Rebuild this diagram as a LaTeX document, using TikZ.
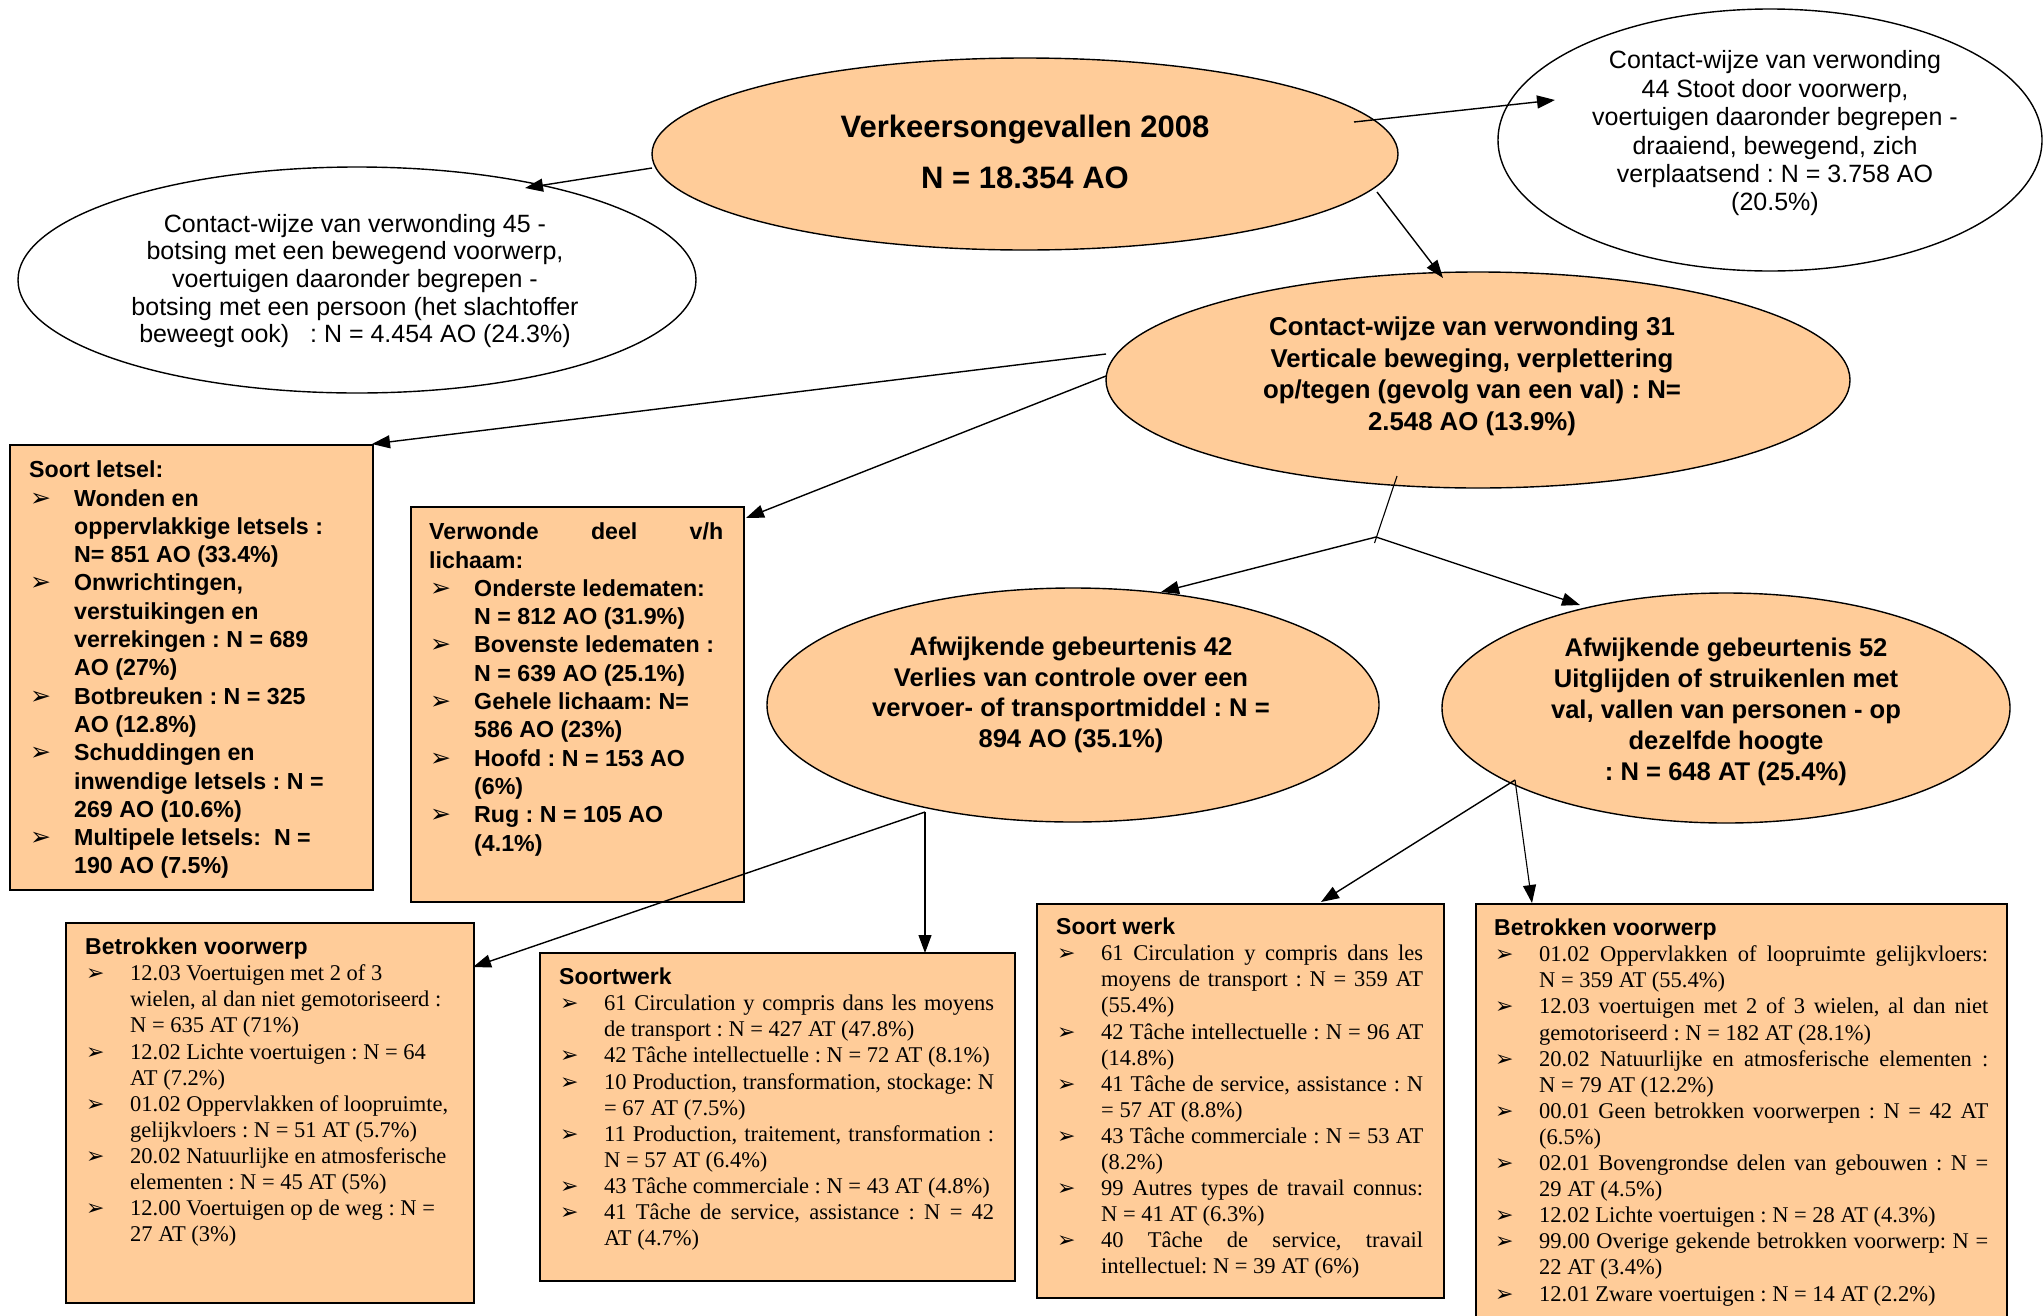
\documentclass[tikz,border=0pt]{standalone}
\usepackage{fontspec}
\setmainfont{Liberation Serif}
\setsansfont{Liberation Sans}
\newfontfamily\dejavu{DejaVu Sans}
\usetikzlibrary{shapes.geometric,arrows.meta}
\definecolor{peach}{HTML}{FFCC99}
\newcommand\fixsp{\spaceskip=0pt\xspaceskip=0pt\frenchspacing}
\newcommand\rigidsp{\frenchspacing\spaceskip=\fontdimen2\font\relax\xspaceskip=\spaceskip}
\newcommand\bul{\makebox[45pt][l]{\hspace*{1pt}{\dejavu\mdseries\fontsize{25}{25}\selectfont ➢}}}
\newcommand\sbul{\makebox[45pt][l]{\hspace*{1pt}{\dejavu\mdseries\fontsize{22}{22}\selectfont ➢}}}
\newcommand\cnt{\hspace*{45pt}}
\newcommand\jl[2]{{\fixsp\makebox[#1][s]{#2}}}
\newcommand\hd{\sffamily\bfseries\fontsize{23}{26.1}\selectfont}
\tikzset{
  ell/.style={ellipse, draw=black, line width=1.4pt, inner sep=0pt},
  ellO/.style={ell, fill=peach},
  ellW/.style={ell, fill=white},
  boxr/.style={rectangle, draw=black, line width=2pt, fill=peach, anchor=north west, inner sep=0pt},
  sanslist/.style={anchor=north west, inner sep=0pt, align=left, font=\sffamily\bfseries\fontsize{23.2}{28.3}\selectfont},
  serlist/.style={anchor=north west, inner sep=0pt, align=left, font=\rmfamily\fontsize{22.5}{26.1}\selectfont},
  etxt/.style={inner sep=0pt, align=center},
  conn/.style={line width=1.4pt, -{Triangle[length=18pt,width=13pt]}},
  thinconn/.style={line width=1.1pt, -{Triangle[length=18pt,width=13pt]}},
}
\begin{document}
\begin{tikzpicture}[x=1pt, y=-1pt]
\path[use as bounding box, clip] (0,0) rectangle (2043,1315);
\fill[white] (0,0) rectangle (2043,1315);

% ellipses
\node[ellO, minimum width=746pt, minimum height=192pt] (main) at (1025,154) {};
\node[ellW, minimum width=544pt, minimum height=262pt] (tr) at (1770,140) {};
\node[ellW, minimum width=678pt, minimum height=226pt] (lw) at (357,280) {};
\node[ellO, minimum width=744pt, minimum height=216pt] (c31) at (1478,380) {};
\node[ellO, minimum width=612pt, minimum height=234pt] (e42) at (1073,705) {};
\node[ellO, minimum width=568pt, minimum height=230pt] (e52) at (1726,708) {};

\node[etxt, text width=480pt, font=\sffamily\bfseries\fontsize{31}{51}\selectfont] (main-t) at (1025,152.3)
  {\rigidsp\strut Verkeersongevallen 2008\\ N = 18.354 AO\strut};
\node[etxt, text width=420pt, font=\sffamily\fontsize{25}{28.4}\selectfont] (tr-t) at (1775,134.3)
  {\rigidsp\strut Contact-wijze van verwonding\\ 44 Stoot door voorwerp,\\ voertuigen daaronder begrepen -\\ draaiend, bewegend, zich\\ verplaatsend : N = 3.758 AO\\ (20.5\%)\strut};
\node[etxt, text width=540pt, font=\sffamily\fontsize{25}{27.7}\selectfont] (lw-t) at (355,282)
  {\rigidsp\strut Contact-wijze van verwonding 45 -\\ botsing met een bewegend voorwerp,\\ voertuigen daaronder begrepen -\\ botsing met een persoon (het slachtoffer\\ beweegt ook)\ \ \ : N = 4.454 AO (24.3\%)\strut};
\node[etxt, text width=480pt, font=\sffamily\bfseries\fontsize{25.8}{31.5}\selectfont] (c31-t) at (1472,376.7)
  {\rigidsp\strut Contact-wijze van verwonding 31\\ Verticale beweging, verplettering\\ op/tegen (gevolg van een val) : N=\\ 2.548 AO (13.9\%)\strut};
\node[etxt, text width=480pt, font=\sffamily\bfseries\fontsize{25.6}{30.7}\selectfont] (e42-t) at (1071,695.4)
  {\rigidsp\strut Afwijkende gebeurtenis 42\\ Verlies van controle over een\\ vervoer- of transportmiddel : N =\\ 894 AO (35.1\%)\strut};
\node[etxt, text width=440pt, font=\sffamily\bfseries\fontsize{25.6}{31}\selectfont] (e52-t) at (1726,711.8)
  {\rigidsp\strut Afwijkende gebeurtenis 52\\ Uitglijden of struikenlen met\\ val, vallen van personen - op\\ dezelfde hoogte\\ : N = 648 AT (25.4\%)\strut};

% boxes
\node[boxr, minimum width=363pt, minimum height=445pt] (b1) at (9,444) {};
\node[boxr, minimum width=333pt, minimum height=395pt] (b2) at (410,506) {};
\node[boxr, minimum width=408pt, minimum height=380pt] (b3) at (65,922) {};
\node[boxr, minimum width=475pt, minimum height=328pt] (b4) at (539,952) {};
\node[boxr, minimum width=407pt, minimum height=394pt] (b5) at (1036,903) {};
\node[boxr, minimum width=531pt, minimum height=440pt] (b6) at (1475,903) {};

\node[sanslist, text width=340pt] (b1t) at (29,457.7) {\fixsp\strut Soort letsel:\\
\bul Wonden en\\
\cnt oppervlakkige letsels :\\
\cnt N= 851 AO (33.4\%)\\
\bul Onwrichtingen,\\
\cnt verstuikingen en\\
\cnt verrekingen : N = 689\\
\cnt AO (27\%)\\
\bul Botbreuken : N = 325\\
\cnt AO (12.8\%)\\
\bul Schuddingen en\\
\cnt inwendige letsels : N =\\
\cnt 269 AO (10.6\%)\\
\bul Multipele letsels:\ \ N =\\
\cnt 190 AO (7.5\%)};

\node[sanslist, text width=310pt] (b2t) at (429,519.7) {\fixsp\strut\jl{294pt}{Verwonde deel v/h}\\
lichaam:\\
\bul Onderste ledematen:\\
\cnt N = 812 AO (31.9\%)\\
\bul Bovenste ledematen :\\
\cnt N = 639 AO (25.1\%)\\
\bul Gehele lichaam: N=\\
\cnt 586 AO (23\%)\\
\bul Hoofd : N = 153 AO\\
\cnt (6\%)\\
\bul Rug : N = 105 AO\\
\cnt (4.1\%)};

\node[serlist, text width=395pt] (b3t) at (85,936.2) {\fixsp{\hd\strut Betrokken voorwerp}\\
\sbul 12.03 Voertuigen met 2 of 3\\
\cnt wielen, al dan niet gemotoriseerd :\\
\cnt N = 635 AT (71\%)\\
\sbul 12.02 Lichte voertuigen : N = 64\\
\cnt AT (7.2\%)\\
\sbul 01.02 Oppervlakken of loopruimte,\\
\cnt gelijkvloers : N = 51 AT (5.7\%)\\
\sbul 20.02 Natuurlijke en atmosferische\\
\cnt elementen : N = 45 AT (5\%)\\
\sbul 12.00 Voertuigen op de weg : N =\\
\cnt 27 AT (3\%)};

\node[serlist, text width=470pt] (b4t) at (559,966.2) {\fixsp{\hd\strut Soortwerk}\\
\sbul\jl{390pt}{61 Circulation y compris dans les moyens}\\
\cnt de transport : N = 427 AT (47.8\%)\\
\sbul 42 Tâche intellectuelle : N = 72 AT (8.1\%)\\
\sbul\jl{390pt}{10 Production, transformation, stockage: N}\\
\cnt = 67 AT (7.5\%)\\
\sbul\jl{390pt}{11 Production, traitement, transformation :}\\
\cnt N = 57 AT (6.4\%)\\
\sbul 43 Tâche commerciale : N = 43 AT (4.8\%)\\
\sbul\jl{390pt}{41 Tâche de service, assistance : N = 42}\\
\cnt AT (4.7\%)};

\node[serlist, text width=390pt] (b5t) at (1056,916.2) {\fixsp{\hd\strut Soort werk}\\
\sbul\jl{322pt}{61 Circulation y compris dans les}\\
\cnt\jl{322pt}{moyens de transport : N = 359 AT}\\
\cnt (55.4\%)\\
\sbul\jl{322pt}{42 Tâche intellectuelle : N = 96 AT}\\
\cnt (14.8\%)\\
\sbul\jl{322pt}{41 Tâche de service, assistance : N}\\
\cnt = 57 AT (8.8\%)\\
\sbul\jl{322pt}{43 Tâche commerciale : N = 53 AT}\\
\cnt (8.2\%)\\
\sbul\jl{322pt}{99 Autres types de travail connus:}\\
\cnt N = 41 AT (6.3\%)\\
\sbul\jl{322pt}{40 Tâche de service, travail}\\
\cnt intellectuel: N = 39 AT (6\%)};

\node[serlist, text width=520pt] (b6t) at (1494,917.2) {\fixsp{\hd\strut Betrokken voorwerp}\\
\sbul\jl{449pt}{01.02 Oppervlakken of loopruimte gelijkvloers:}\\
\cnt N = 359 AT (55.4\%)\\
\sbul\jl{449pt}{12.03 voertuigen met 2 of 3 wielen, al dan niet}\\
\cnt gemotoriseerd : N = 182 AT (28.1\%)\\
\sbul\jl{449pt}{20.02 Natuurlijke en atmosferische elementen :}\\
\cnt N = 79 AT (12.2\%)\\
\sbul\jl{449pt}{00.01 Geen betrokken voorwerpen : N = 42 AT}\\
\cnt (6.5\%)\\
\sbul\jl{449pt}{02.01 Bovengrondse delen van gebouwen : N =}\\
\cnt 29 AT (4.5\%)\\
\sbul 12.02 Lichte voertuigen : N = 28 AT (4.3\%)\\
\sbul\jl{449pt}{99.00 Overige gekende betrokken voorwerp: N =}\\
\cnt 22 AT (3.4\%)\\
\sbul 12.01 Zware voertuigen : N = 14 AT (2.2\%)};

% connector end points
\coordinate (p1s) at (652,168);  \coordinate (p1e) at (525,188);
\coordinate (p2s) at (1354,122); \coordinate (p2e) at (1555,100);
\coordinate (p3s) at (1377,192); \coordinate (p3e) at (1443,278);
\coordinate (p4s) at (1106,354); \coordinate (p4e) at (372,444);
\coordinate (p5s) at (1106,376); \coordinate (p5e) at (746,518);
\coordinate (p6s) at (1397,476); \coordinate (jn) at (1376,537); \coordinate (jx) at (1374.5,543);
\coordinate (p7e) at (1161,592); \coordinate (p8e) at (1580,605);
\coordinate (p9s) at (925,812);  \coordinate (p9e) at (473,967); \coordinate (p10e) at (925,953);
\coordinate (p11s) at (1515,780); \coordinate (p11e) at (1321,902); \coordinate (p12e) at (1532,903);

% connectors
\draw[conn] (p1s) -- (p1e);
\draw[conn] (p2s) -- (p2e);
\draw[conn] (p3s) -- (p3e);
\draw[conn] (p4s) -- (p4e);
\draw[conn] (p5s) -- (p5e);
\draw[line width=1.1pt] (p6s) -- (jx);
\draw[conn] (jn) -- (p7e);
\draw[conn] (jn) -- (p8e);
\draw[conn] (p9s) -- (p9e);
\draw[thinconn] (p9s) -- (p10e);
\draw[conn] (p11s) -- (p11e);
\draw[thinconn] (p11s) -- (p12e);
\end{tikzpicture}
\end{document}
